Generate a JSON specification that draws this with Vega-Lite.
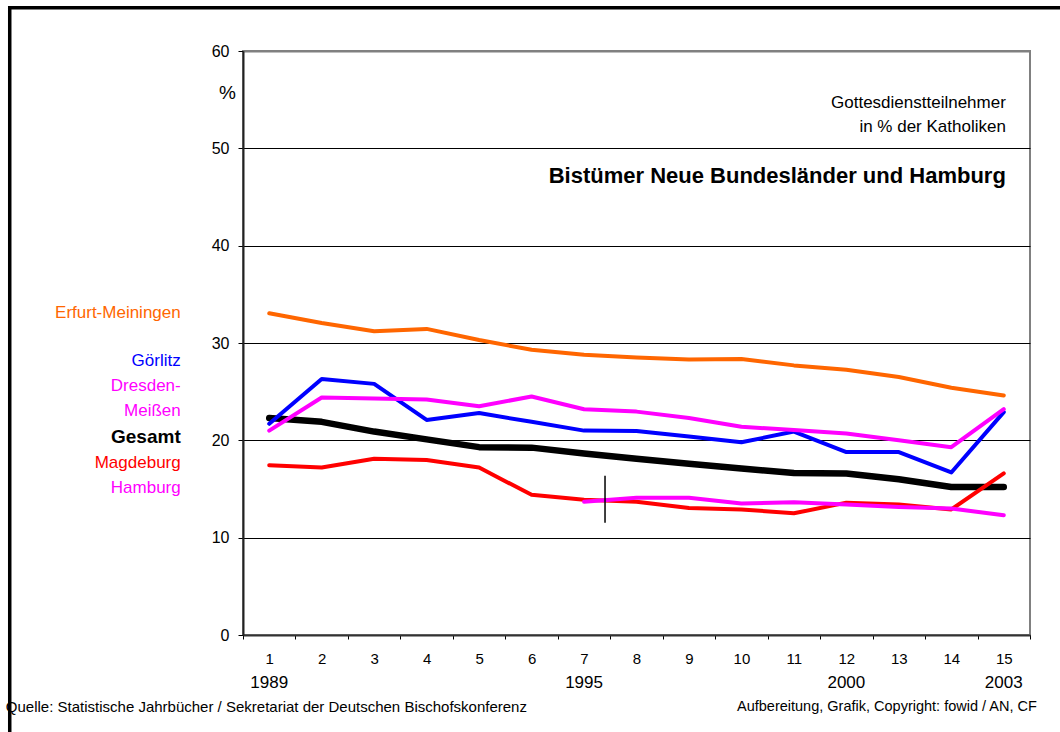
{
  "$schema": "https://vega.github.io/schema/vega-lite/v6.json",
  "width": 787,
  "height": 584,
  "autosize": {"type": "none"},
  "padding": {"left": 243, "top": 51, "right": 30, "bottom": 97},
  "background": "white",
  "config": {
    "font": "Liberation Sans",
    "view": {"stroke": "#808080", "strokeWidth": 2}
  },
  "resolve": {"axis": {"x": "independent", "y": "independent"}},
  "datasets": {
    "serien": [
      {"jahr": 1, "bistum": "Erfurt-Meiningen", "wert": 33.05},
      {"jahr": 2, "bistum": "Erfurt-Meiningen", "wert": 32.05},
      {"jahr": 3, "bistum": "Erfurt-Meiningen", "wert": 31.2},
      {"jahr": 4, "bistum": "Erfurt-Meiningen", "wert": 31.45},
      {"jahr": 5, "bistum": "Erfurt-Meiningen", "wert": 30.3},
      {"jahr": 6, "bistum": "Erfurt-Meiningen", "wert": 29.3},
      {"jahr": 7, "bistum": "Erfurt-Meiningen", "wert": 28.8},
      {"jahr": 8, "bistum": "Erfurt-Meiningen", "wert": 28.5},
      {"jahr": 9, "bistum": "Erfurt-Meiningen", "wert": 28.3},
      {"jahr": 10, "bistum": "Erfurt-Meiningen", "wert": 28.35},
      {"jahr": 11, "bistum": "Erfurt-Meiningen", "wert": 27.7},
      {"jahr": 12, "bistum": "Erfurt-Meiningen", "wert": 27.25},
      {"jahr": 13, "bistum": "Erfurt-Meiningen", "wert": 26.5},
      {"jahr": 14, "bistum": "Erfurt-Meiningen", "wert": 25.4},
      {"jahr": 15, "bistum": "Erfurt-Meiningen", "wert": 24.6},
      {"jahr": 1, "bistum": "Görlitz", "wert": 21.7},
      {"jahr": 2, "bistum": "Görlitz", "wert": 26.3},
      {"jahr": 3, "bistum": "Görlitz", "wert": 25.8},
      {"jahr": 4, "bistum": "Görlitz", "wert": 22.1},
      {"jahr": 5, "bistum": "Görlitz", "wert": 22.8},
      {"jahr": 6, "bistum": "Görlitz", "wert": 21.9},
      {"jahr": 7, "bistum": "Görlitz", "wert": 21.0},
      {"jahr": 8, "bistum": "Görlitz", "wert": 20.95},
      {"jahr": 9, "bistum": "Görlitz", "wert": 20.4},
      {"jahr": 10, "bistum": "Görlitz", "wert": 19.8},
      {"jahr": 11, "bistum": "Görlitz", "wert": 20.9},
      {"jahr": 12, "bistum": "Görlitz", "wert": 18.8},
      {"jahr": 13, "bistum": "Görlitz", "wert": 18.8},
      {"jahr": 14, "bistum": "Görlitz", "wert": 16.7},
      {"jahr": 15, "bistum": "Görlitz", "wert": 22.9},
      {"jahr": 1, "bistum": "Dresden-Meißen", "wert": 21.0},
      {"jahr": 2, "bistum": "Dresden-Meißen", "wert": 24.4},
      {"jahr": 3, "bistum": "Dresden-Meißen", "wert": 24.3},
      {"jahr": 4, "bistum": "Dresden-Meißen", "wert": 24.2},
      {"jahr": 5, "bistum": "Dresden-Meißen", "wert": 23.5},
      {"jahr": 6, "bistum": "Dresden-Meißen", "wert": 24.5},
      {"jahr": 7, "bistum": "Dresden-Meißen", "wert": 23.2},
      {"jahr": 8, "bistum": "Dresden-Meißen", "wert": 22.95},
      {"jahr": 9, "bistum": "Dresden-Meißen", "wert": 22.3},
      {"jahr": 10, "bistum": "Dresden-Meißen", "wert": 21.4},
      {"jahr": 11, "bistum": "Dresden-Meißen", "wert": 21.05},
      {"jahr": 12, "bistum": "Dresden-Meißen", "wert": 20.7},
      {"jahr": 13, "bistum": "Dresden-Meißen", "wert": 20.0},
      {"jahr": 14, "bistum": "Dresden-Meißen", "wert": 19.3},
      {"jahr": 15, "bistum": "Dresden-Meißen", "wert": 23.2},
      {"jahr": 1, "bistum": "Gesamt", "wert": 22.3},
      {"jahr": 2, "bistum": "Gesamt", "wert": 21.9},
      {"jahr": 3, "bistum": "Gesamt", "wert": 20.9},
      {"jahr": 4, "bistum": "Gesamt", "wert": 20.1},
      {"jahr": 5, "bistum": "Gesamt", "wert": 19.3},
      {"jahr": 6, "bistum": "Gesamt", "wert": 19.25},
      {"jahr": 7, "bistum": "Gesamt", "wert": 18.65},
      {"jahr": 8, "bistum": "Gesamt", "wert": 18.1},
      {"jahr": 9, "bistum": "Gesamt", "wert": 17.6},
      {"jahr": 10, "bistum": "Gesamt", "wert": 17.1},
      {"jahr": 11, "bistum": "Gesamt", "wert": 16.65},
      {"jahr": 12, "bistum": "Gesamt", "wert": 16.6},
      {"jahr": 13, "bistum": "Gesamt", "wert": 16.0},
      {"jahr": 14, "bistum": "Gesamt", "wert": 15.2},
      {"jahr": 15, "bistum": "Gesamt", "wert": 15.2},
      {"jahr": 1, "bistum": "Magdeburg", "wert": 17.45},
      {"jahr": 2, "bistum": "Magdeburg", "wert": 17.2},
      {"jahr": 3, "bistum": "Magdeburg", "wert": 18.1},
      {"jahr": 4, "bistum": "Magdeburg", "wert": 17.97},
      {"jahr": 5, "bistum": "Magdeburg", "wert": 17.2},
      {"jahr": 6, "bistum": "Magdeburg", "wert": 14.4},
      {"jahr": 7, "bistum": "Magdeburg", "wert": 13.9},
      {"jahr": 8, "bistum": "Magdeburg", "wert": 13.7},
      {"jahr": 9, "bistum": "Magdeburg", "wert": 13.05},
      {"jahr": 10, "bistum": "Magdeburg", "wert": 12.9},
      {"jahr": 11, "bistum": "Magdeburg", "wert": 12.5},
      {"jahr": 12, "bistum": "Magdeburg", "wert": 13.6},
      {"jahr": 13, "bistum": "Magdeburg", "wert": 13.4},
      {"jahr": 14, "bistum": "Magdeburg", "wert": 12.9},
      {"jahr": 15, "bistum": "Magdeburg", "wert": 16.6},
      {"jahr": 7, "bistum": "Hamburg", "wert": 13.7},
      {"jahr": 8, "bistum": "Hamburg", "wert": 14.1},
      {"jahr": 9, "bistum": "Hamburg", "wert": 14.1},
      {"jahr": 10, "bistum": "Hamburg", "wert": 13.5},
      {"jahr": 11, "bistum": "Hamburg", "wert": 13.65},
      {"jahr": 12, "bistum": "Hamburg", "wert": 13.4},
      {"jahr": 13, "bistum": "Hamburg", "wert": 13.15},
      {"jahr": 14, "bistum": "Hamburg", "wert": 13.0},
      {"jahr": 15, "bistum": "Hamburg", "wert": 12.3}
    ],
    "jahre": [
      {"jahr": 1, "jahrzahl": "1989"},
      {"jahr": 7, "jahrzahl": "1995"},
      {"jahr": 12, "jahrzahl": "2000"},
      {"jahr": 15, "jahrzahl": "2003"}
    ],
    "leer": [{}]
  },
  "layer": [
    {
      "data": {"name": "serien"},
      "transform": [{"filter": "datum.bistum === 'Gesamt'"}],
      "mark": {"type": "line", "color": "black", "strokeWidth": 6.5, "strokeCap": "round", "strokeJoin": "round"},
      "encoding": {
        "x": {
          "field": "jahr", "type": "quantitative",
          "scale": {"domain": [0.5, 15.5], "nice": false, "zero": false},
          "axis": {
            "orient": "bottom",
            "title": null,
            "values": [0.5, 1, 1.5, 2, 2.5, 3, 3.5, 4, 4.5, 5, 5.5, 6, 6.5, 7, 7.5, 8, 8.5, 9, 9.5, 10, 10.5, 11, 11.5, 12, 12.5, 13, 13.5, 14, 14.5, 15, 15.5],
            "labelExpr": "datum.value === floor(datum.value) ? ('' + datum.value) : ''",
            "labelOverlap": false,
            "labelFlush": false,
            "labelFont": "Liberation Sans",
            "labelFontSize": 15,
            "labelColor": "black",
            "grid": false,
            "domainColor": "#333333",
            "domainWidth": 2,
            "tickColor": "black",
            "tickSize": 4,
            "tickOpacity": {"condition": {"test": "datum.value !== floor(datum.value)", "value": 1}, "value": 0},
            "labelPadding": 12,
            "labelBaseline": "top"
          }
        },
        "y": {
          "field": "wert", "type": "quantitative",
          "scale": {"domain": [0, 60], "nice": false},
          "axis": {
            "orient": "left",
            "title": "%",
            "titleFont": "Liberation Sans",
            "titleAngle": 0,
            "titleFontSize": 19,
            "titleFontWeight": "normal",
            "titleX": -16,
            "titleY": 41,
            "titleAlign": "center",
            "titleBaseline": "middle",
            "values": [0, 10, 20, 30, 40, 50, 60],
            "labelFont": "Liberation Sans",
            "labelFontSize": 16,
            "labelColor": "black",
            "grid": true,
            "gridColor": {"condition": {"test": "datum.value === 60", "value": "#808080"}, "value": "black"},
            "gridWidth": {"condition": {"test": "datum.value === 60", "value": 2}, "value": 1},
            "gridOpacity": 1,
            "domainColor": "#222222",
            "domainWidth": 2,
            "tickColor": "black",
            "tickSize": 5,
            "labelPadding": 9
          }
        }
      }
    },
    {
      "data": {"name": "serien"},
      "transform": [{"filter": "datum.bistum !== 'Gesamt'"}],
      "mark": {"type": "line", "strokeWidth": 4, "strokeCap": "round", "strokeJoin": "round"},
      "encoding": {
        "x": {"field": "jahr", "type": "quantitative", "axis": null},
        "y": {"field": "wert", "type": "quantitative", "axis": null},
        "color": {
          "field": "bistum", "type": "nominal",
          "scale": {
            "domain": ["Erfurt-Meiningen", "Görlitz", "Dresden-Meißen", "Hamburg", "Magdeburg"],
            "range": ["#FF6600", "#0000FF", "#FF00FF", "#FF00FF", "#FF0000"]
          },
          "legend": null
        },
        "order": {"field": "jahr"}
      }
    },
    {
      "data": {"name": "leer"},
      "mark": {"type": "rule", "color": "black", "strokeWidth": 1.5},
      "encoding": {
        "x": {"datum": 7.4, "type": "quantitative", "axis": null},
        "y": {"datum": 11.54, "type": "quantitative", "axis": null},
        "y2": {"datum": 16.37}
      }
    },
    {
      "data": {"name": "jahre"},
      "mark": {"type": "text", "fontSize": 17, "align": "center", "baseline": "middle", "color": "black"},
      "encoding": {
        "x": {"field": "jahr", "type": "quantitative", "axis": null},
        "y": {"datum": -4.9, "type": "quantitative", "axis": null},
        "text": {"field": "jahrzahl"}
      }
    },
    {
      "data": {"name": "leer"},
      "mark": {"type": "text", "text": "Erfurt-Meiningen", "fontSize": 17, "align": "right", "baseline": "middle", "color": "#FF6600"},
      "encoding": {"x": {"datum": -0.687, "type": "quantitative", "axis": null}, "y": {"datum": 33.08, "type": "quantitative", "axis": null}}
    },
    {
      "data": {"name": "leer"},
      "mark": {"type": "text", "text": "Görlitz", "fontSize": 17, "align": "right", "baseline": "middle", "color": "#0000FF"},
      "encoding": {"x": {"datum": -0.687, "type": "quantitative", "axis": null}, "y": {"datum": 28.15, "type": "quantitative", "axis": null}}
    },
    {
      "data": {"name": "leer"},
      "mark": {"type": "text", "text": "Dresden-", "fontSize": 17, "align": "right", "baseline": "middle", "color": "#FF00FF"},
      "encoding": {"x": {"datum": -0.687, "type": "quantitative", "axis": null}, "y": {"datum": 25.58, "type": "quantitative", "axis": null}}
    },
    {
      "data": {"name": "leer"},
      "mark": {"type": "text", "text": "Meißen", "fontSize": 17, "align": "right", "baseline": "middle", "color": "#FF00FF"},
      "encoding": {"x": {"datum": -0.687, "type": "quantitative", "axis": null}, "y": {"datum": 23.01, "type": "quantitative", "axis": null}}
    },
    {
      "data": {"name": "leer"},
      "mark": {"type": "text", "text": "Gesamt", "fontSize": 19, "fontWeight": "bold", "align": "right", "baseline": "middle", "color": "black"},
      "encoding": {"x": {"datum": -0.687, "type": "quantitative", "axis": null}, "y": {"datum": 20.34, "type": "quantitative", "axis": null}}
    },
    {
      "data": {"name": "leer"},
      "mark": {"type": "text", "text": "Magdeburg", "fontSize": 17, "align": "right", "baseline": "middle", "color": "#FF0000"},
      "encoding": {"x": {"datum": -0.687, "type": "quantitative", "axis": null}, "y": {"datum": 17.67, "type": "quantitative", "axis": null}}
    },
    {
      "data": {"name": "leer"},
      "mark": {"type": "text", "text": "Hamburg", "fontSize": 17, "align": "right", "baseline": "middle", "color": "#FF00FF"},
      "encoding": {"x": {"datum": -0.687, "type": "quantitative", "axis": null}, "y": {"datum": 15.1, "type": "quantitative", "axis": null}}
    },
    {
      "data": {"name": "leer"},
      "mark": {"type": "text", "text": "Gottesdienstteilnehmer", "fontSize": 17, "align": "right", "baseline": "middle", "color": "black"},
      "encoding": {"x": {"datum": 15.04, "type": "quantitative", "axis": null}, "y": {"datum": 54.66, "type": "quantitative", "axis": null}}
    },
    {
      "data": {"name": "leer"},
      "mark": {"type": "text", "text": "in % der Katholiken", "fontSize": 17, "align": "right", "baseline": "middle", "color": "black"},
      "encoding": {"x": {"datum": 15.04, "type": "quantitative", "axis": null}, "y": {"datum": 52.19, "type": "quantitative", "axis": null}}
    },
    {
      "data": {"name": "leer"},
      "mark": {"type": "text", "text": "Bistümer Neue Bundesländer und Hamburg", "fontSize": 22, "fontWeight": "bold", "align": "right", "baseline": "middle", "color": "black"},
      "encoding": {"x": {"datum": 15.04, "type": "quantitative", "axis": null}, "y": {"datum": 47.16, "type": "quantitative", "axis": null}}
    },
    {
      "data": {"name": "leer"},
      "mark": {"type": "text", "text": "Quelle: Statistische Jahrbücher / Sekretariat der Deutschen Bischofskonferenz", "fontSize": 15, "align": "left", "baseline": "middle", "color": "black"},
      "encoding": {"x": {"datum": -4.02, "type": "quantitative", "axis": null}, "y": {"datum": -7.4, "type": "quantitative", "axis": null}}
    },
    {
      "data": {"name": "leer"},
      "mark": {"type": "text", "text": "Aufbereitung, Grafik, Copyright: fowid / AN, CF", "fontSize": 14.5, "align": "right", "baseline": "middle", "color": "black"},
      "encoding": {"x": {"datum": 15.63, "type": "quantitative", "axis": null}, "y": {"datum": -7.4, "type": "quantitative", "axis": null}}
    },
    {
      "data": {"name": "leer"},
      "mark": {"type": "rect", "fill": "transparent", "stroke": "black", "strokeWidth": 3.5},
      "encoding": {
        "x": {"datum": -3.946, "type": "quantitative", "axis": null},
        "x2": {"datum": 16.5},
        "y": {"datum": 64.45, "type": "quantitative", "axis": null},
        "y2": {"datum": -12}
      }
    }
  ]
}
